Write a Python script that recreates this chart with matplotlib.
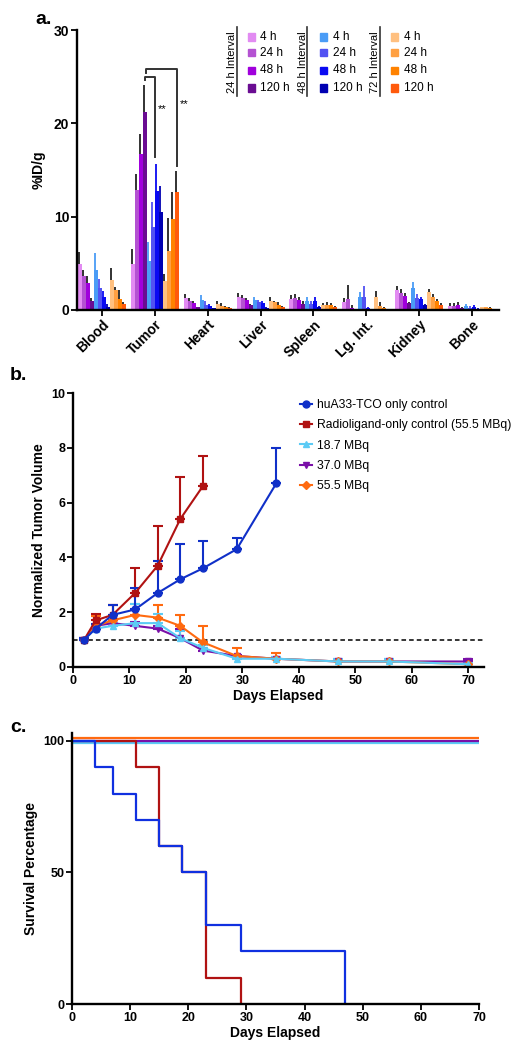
import numpy as np
import matplotlib.pyplot as plt
import matplotlib.transforms as mtransforms
from matplotlib.lines import Line2D

plt.rcParams['font.family'] = ['Liberation Sans', 'DejaVu Sans']
plt.rcParams['font.weight'] = 'bold'

# ---- panel a data: %ID/g, order per interval = 4 h, 24 h, 48 h, 120 h
organs = ['Blood', 'Tumor', 'Heart', 'Liver', 'Spleen', 'Lg. Int.', 'Kidney', 'Bone']
times = ['4 h', '24 h', '48 h', '120 h']
intervals = ['24 h Interval', '48 h Interval', '72 h Interval']

int24_mean = [[4.9, 3.6, 2.9, 1.0], [4.9, 12.9, 16.7, 21.2], [1.25, 0.96, 0.7, 0.3],
              [1.36, 1.3, 1.1, 0.5], [1.14, 1.3, 1.07, 0.64], [0.8, 1.2, 0.2, 0.07],
              [2.1, 1.86, 1.46, 0.7], [0.43, 0.43, 0.5, 0.18]]
int24_top = [[6.25, 4.3, 3.6, 1.25], [6.5, 14.6, 18.9, 24.1], [1.7, 1.25, 0.93, 0.35],
             [1.8, 1.6, 1.3, 0.64], [1.6, 1.7, 1.36, 0.93], [1.3, 2.7, 0.5, 0.14],
             [2.6, 2.2, 1.86, 0.86], [0.7, 0.7, 0.8, 0.3]]
int48_mean = [[4.3, 2.4, 1.4, 0.36], [5.2, 8.9, 12.8, 10.5], [1.07, 0.57, 0.43, 0.18],
              [1.07, 0.8, 0.7, 0.2], [0.93, 0.64, 0.93, 0.3], [1.43, 1.43, 0.2, 0.1],
              [2.36, 1.3, 1.14, 0.5], [0.43, 0.25, 0.32, 0.14]]
int48_top = [[6.1, 3.3, 2.0, 0.64], [7.3, 11.6, 15.6, 13.3], [1.6, 0.93, 0.64, 0.25],
             [1.4, 1.07, 0.96, 0.3], [1.4, 0.93, 1.36, 0.43], [1.9, 2.6, 0.3, 0.14],
             [3.0, 1.7, 1.43, 0.64], [0.6, 0.4, 0.5, 0.2]]
int72_mean = [[3.2, 2.1, 1.2, 0.64], [3.1, 6.3, 9.7, 12.6], [0.64, 0.46, 0.3, 0.2],
              [0.96, 0.8, 0.5, 0.3], [0.54, 0.57, 0.5, 0.3], [1.36, 0.46, 0.18, 0.07],
              [1.93, 1.43, 0.96, 0.57], [0.3, 0.3, 0.2, 0.1]]
int72_top = [[4.5, 2.5, 2.1, 0.8], [3.9, 9.9, 12.6, 14.9], [0.96, 0.7, 0.46, 0.3],
             [1.36, 1.0, 0.8, 0.43], [0.7, 0.8, 0.7, 0.43], [2.0, 0.8, 0.3, 0.14],
             [2.2, 1.7, 1.2, 0.7], [0.36, 0.36, 0.3, 0.14]]

purple_cols = ['#E28BF2', '#B452D2', '#A000DC', '#6A0C92']
blue_cols = ['#4A9CF6', '#5252F2', '#0A0AF2', '#0000B2']
orange_cols = ['#FFC080', '#FFA042', '#FF8200', '#FF5A0C']

# ---- panel b data
days_ctrl = [2, 4, 7, 11, 15, 19, 23, 29, 36]
huA33 = [1.0, 1.4, 1.9, 2.1, 2.7, 3.2, 3.6, 4.3, 6.7]
huA33_err = [0.05, 0.15, 0.35, 0.8, 1.15, 1.3, 1.0, 0.4, 1.3]
days_radio = [2, 4, 7, 11, 15, 19, 23]
radio = [1.0, 1.7, 1.9, 2.7, 3.7, 5.4, 6.6]
radio_err = [0.05, 0.25, 0.35, 0.9, 1.45, 1.55, 1.1]
days_tx = [2, 4, 7, 11, 15, 19, 23, 29, 36, 47, 56, 70]
mbq18 = [1.0, 1.4, 1.5, 1.6, 1.6, 1.05, 0.7, 0.3, 0.3, 0.2, 0.2, 0.1]
mbq18_err = [0.05, 0.1, 0.1, 0.7, 0.35, 0.25, 0.1, 0.05, 0.05, 0.1, 0.1, 0.05]
mbq37 = [1.0, 1.5, 1.6, 1.5, 1.4, 1.05, 0.6, 0.4, 0.3, 0.2, 0.2, 0.2]
mbq37_err = [0.05, 0.35, 0.1, 0.15, 0.1, 0.35, 0.1, 0.05, 0.05, 0.1, 0.1, 0.1]
mbq55 = [1.0, 1.5, 1.7, 1.9, 1.8, 1.5, 0.9, 0.4, 0.3, 0.2, 0.2, 0.1]
mbq55_err = [0.05, 0.35, 0.55, 0.4, 0.45, 0.4, 0.6, 0.3, 0.2, 0.05, 0.05, 0.05]

# ---- panel c data (Kaplan-Meier steps)
km_huA33_days = [0, 4, 7, 11, 15, 19, 23, 29, 47]
km_huA33 = [100, 90, 80, 70, 60, 50, 30, 20, 0]
km_radio_days = [0, 11, 15, 19, 23, 29]
km_radio = [100, 90, 60, 50, 10, 0]
km_flat_days = [0, 70]
km_flat = [100, 100]

fig = plt.figure(figsize=(5.19, 10.5), dpi=100)


def style(ax, size=9):
    for s in ['top', 'right']:
        ax.spines[s].set_visible(False)
    for s in ['left', 'bottom']:
        ax.spines[s].set_linewidth(1.7)
    ax.tick_params(width=1.3, length=4, labelsize=size, pad=1.5)
    for lab in ax.get_xticklabels() + ax.get_yticklabels():
        lab.set_fontweight('bold')


# ================= panel a
ax1 = fig.add_axes([0.148, 0.7048, 0.961 - 0.148, 0.9714 - 0.7048])
w = 0.0755
xc = np.arange(len(organs))
sets = [(int24_mean, int24_top, purple_cols, None),
        (int48_mean, int48_top, blue_cols, 'own'),
        (int72_mean, int72_top, orange_cols, None)]
for k, (mean, top, cols, ecol) in enumerate(sets):
    mean = np.array(mean)
    top = np.array(top)
    for t in range(4):
        i = k * 4 + t
        xs = xc + (i - 5.5) * w
        ec = cols[t] if ecol == 'own' else '#222222'
        ax1.bar(xs, mean[:, t], width=w, color=cols[t], edgecolor='none', zorder=2)
        err = top[:, t] - mean[:, t]
        ax1.errorbar(xs - w * 0.15, mean[:, t], yerr=[np.zeros_like(err), err],
                     fmt='none', ecolor=ec, elinewidth=1.3, capsize=0, zorder=1)

# significance brackets
bx = lambda i: 1 + (i - 5.5) * w
ax1.plot([bx(3), bx(3), bx(6) - w * 0.5, bx(6) - w * 0.5], [24.6, 25.0, 25.0, 16.4],
         color='#333333', lw=1.4, clip_on=False)
ax1.plot([bx(3) + w * 0.3, bx(3) + w * 0.3, bx(11), bx(11)], [25.4, 25.8, 25.8, 15.4],
         color='#333333', lw=1.4, clip_on=False)
ax1.text(bx(6) + 0.02, 21.5, '**', fontsize=8, fontweight='normal', va='center')
ax1.text(bx(11) + 0.06, 22.1, '**', fontsize=8, fontweight='normal', va='center')

ax1.set_xlim(-0.47, 7.5)
ax1.set_ylim(0, 30)
ax1.set_yticks([0, 10, 20, 30])
ax1.set_xticks(xc)
ax1.set_xticklabels(organs, rotation=45, ha='right', rotation_mode='anchor')
ax1.set_ylabel('%ID/g', fontsize=10, fontweight='bold', labelpad=6)
style(ax1, 10)

# legend of panel a, built from figure-pixel positions
W, H = 519, 1050
fx = lambda px: px / W
fy = lambda py: 1 - py / H
leg_cols = [(232, 237, 251, 260, purple_cols), (303, 307, 323, 333, blue_cols),
            (375, 380, 394, 404, orange_cols)]
row_y = [37, 53, 70, 88]
for (tx_, lx, sx, labx, cols), name in zip(leg_cols, intervals):
    fig.text(fx(tx_), fy(62), name, rotation=90, fontsize=8, fontweight='normal',
             ha='center', va='center')
    fig.add_artist(plt.Line2D([fx(lx), fx(lx)], [fy(27), fy(96)], color='#333333', lw=1.2))
    for t, (ry, c) in enumerate(zip(row_y, cols)):
        fig.add_artist(plt.Rectangle((fx(sx - 3.5), fy(ry + 3.5)), 7 / W, 7 / H,
                                     color=c, transform=fig.transFigure))
        fig.text(fx(labx), fy(ry), times[t], fontsize=8.5, fontweight='normal', va='center')

fig.text(fx(52), fy(20), 'a.', fontsize=14, fontweight='bold', va='center', ha='right')

# ================= panel b
ax2 = fig.add_axes([0.1407, 0.3648, 0.9326 - 0.1407, 0.6257 - 0.3648])
ax2.axhline(1, color='black', lw=1.1, ls=(0, (3, 2)), zorder=1)
series_b = [
    (days_tx, mbq37, mbq37_err, '#7A10A8', 'v', '37.0 MBq'),
    (days_tx, mbq55, mbq55_err, '#FF6A10', 'D', '55.5 MBq'),
    (days_tx, mbq18, mbq18_err, '#5CCBF5', '^', '18.7 MBq'),
    (days_radio, radio, radio_err, '#B01212', 's', 'Radioligand-only control (55.5 MBq)'),
    (days_ctrl, huA33, huA33_err, '#1030C8', 'o', 'huA33-TCO only control'),
]
handles = {}
for d, v, e, c, m, lab in series_b:
    ms = 5 if m != 'D' else 4
    ax2.errorbar(d, v, yerr=[np.zeros(len(e)), e], color=c, marker=m, ms=ms,
                 lw=1.5, elinewidth=1.5, capsize=3.5, capthick=1.5)
    handles[lab] = Line2D([], [], color=c, marker=m, ms=ms, lw=1.5)
order = ['huA33-TCO only control', 'Radioligand-only control (55.5 MBq)',
         '18.7 MBq', '37.0 MBq', '55.5 MBq']
leg = ax2.legend([handles[o] for o in order], order, loc='upper left',
                 bbox_to_anchor=(0.54, 0.995), frameon=False, fontsize=8.7,
                 handlelength=1.0, handletextpad=0.4, labelspacing=0.68,
                 borderaxespad=0.0)
for t in leg.get_texts():
    t.set_fontweight('normal')
ax2.set_xlim(0, 72.8)
ax2.set_ylim(0, 10)
ax2.set_xticks(range(0, 71, 10))
ax2.set_yticks(range(0, 11, 2))
ax2.set_xlabel('Days Elapsed', fontsize=10, fontweight='bold', labelpad=2)
ax2.set_ylabel('Normalized Tumor Volume', fontsize=10, fontweight='bold', labelpad=4)
style(ax2, 9)
fig.text(fx(10), fy(376), 'b.', fontsize=14, fontweight='bold', va='center')

# ================= panel c
ax3 = fig.add_axes([0.1387, 0.0438, 0.923 - 0.1387, 0.3019 - 0.0438])
pt = lambda dy: mtransforms.offset_copy(ax3.transData, fig=fig, x=0, y=dy, units='dots')
ax3.step(km_flat_days, km_flat, where='post', color='#5CCBF5', lw=1.6, transform=pt(-2.5))
ax3.step(km_flat_days, km_flat, where='post', color='#7A10A8', lw=1.6)
ax3.step(km_flat_days, km_flat, where='post', color='#FF6A10', lw=1.6, transform=pt(3.2))
ax3.step(km_radio_days, km_radio, where='post', color='#B01212', lw=1.6)
ax3.step(km_huA33_days, km_huA33, where='post', color='#1030E0', lw=1.6)
ax3.set_xlim(0, 70)
ax3.set_ylim(0, 103)
ax3.set_xticks(range(0, 71, 10))
ax3.set_yticks([0, 50, 100])
ax3.set_xlabel('Days Elapsed', fontsize=10, fontweight='bold', labelpad=2)
ax3.set_ylabel('Survival Percentage', fontsize=10, fontweight='bold', labelpad=4)
style(ax3, 9)
fig.text(fx(10), fy(727), 'c.', fontsize=14, fontweight='bold', va='center')

fig.savefig('out.png', dpi=100)
